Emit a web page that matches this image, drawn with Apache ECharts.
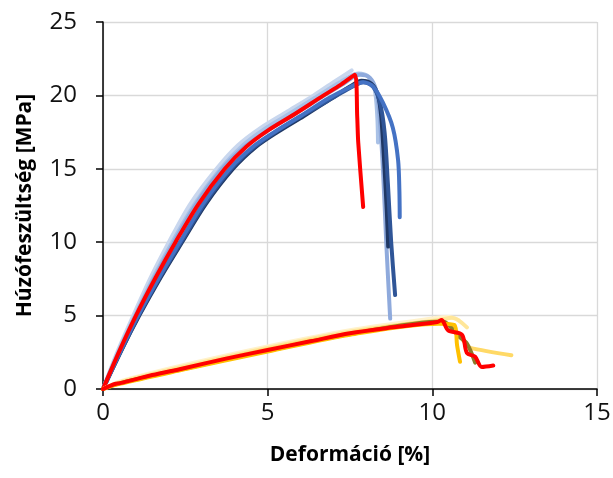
<!DOCTYPE html>
<html>
<head>
<meta charset="utf-8">
<script src="https://cdn.jsdelivr.net/npm/echarts@6/dist/echarts.min.js"></script>
<style>
  html, body { margin: 0; padding: 0; background: #fff; }
  #chart { width: 613px; height: 478px; }
</style>
</head>
<body>
<div id="chart"></div>
<script>
// upper group (blue specimens + red)
const blueVeryLight = [[0,0],[0.45,2.6],[0.92,5],[1.45,7.6],[2.0,10],[2.65,12.6],[3.45,15],[4.1,16.6],[4.8,17.8],[5.6,18.9],[6.4,20.0],[7.0,20.9],[7.55,21.7]]
const blueLight1 = [[0,0],[0.48,2.6],[0.97,5],[1.53,7.6],[2.1,10],[2.78,12.6],[3.57,15],[4.25,16.6],[4.9,17.7],[5.7,18.8],[6.55,20.0],[7.2,20.9],[7.75,21.5],[8.05,21.3],[8.25,20.4],[8.33,18.5],[8.35,16.8]]
const blueLight2 = [[0,0],[0.5,2.6],[1.0,5],[1.57,7.6],[2.15,10],[2.83,12.6],[3.62,15],[4.3,16.5],[5.0,17.6],[5.8,18.7],[6.65,19.9],[7.3,20.8],[7.8,21.4],[8.1,21.2],[8.3,20.3],[8.4,18.5],[8.5,15],[8.6,10],[8.72,4.8]]
const blueNavy = [[0,0],[0.55,2.6],[1.1,5],[1.75,7.6],[2.4,10],[3.12,12.6],[3.95,15],[4.65,16.5],[5.3,17.5],[6.1,18.6],[6.95,19.8],[7.5,20.6],[7.85,21.0],[8.15,20.8],[8.35,20.0],[8.45,18.5],[8.55,15],[8.62,12],[8.66,9.7]]
const blueDark = [[0,0],[0.55,2.6],[1.08,5],[1.72,7.6],[2.37,10],[3.08,12.6],[3.9,15],[4.6,16.5],[5.3,17.6],[6.1,18.7],[6.95,19.8],[7.5,20.5],[7.9,20.9],[8.2,20.6],[8.4,19.6],[8.55,17.5],[8.65,14],[8.75,10],[8.87,6.4]]
const blueMid = [[0,0],[0.53,2.6],[1.06,5],[1.7,7.6],[2.33,10],[3.03,12.6],[3.85,15],[4.55,16.5],[5.2,17.5],[6.0,18.6],[6.85,19.8],[7.45,20.5],[7.9,20.9],[8.2,20.6],[8.5,19.5],[8.8,17.8],[8.96,15.6],[9.0,13.5],[9.01,11.7]]
const redUpper = [[0,0],[0.5,2.6],[1.0,5],[1.6,7.6],[2.2,10],[2.9,12.6],[3.7,15],[4.35,16.5],[5,17.6],[5.8,18.7],[6.7,20.0],[7.2,20.7],[7.65,21.4],[7.72,18.5],[7.75,16.8],[7.9,12.4]]

// lower group (yellow specimens + red)
const yellowPale = [[0,0],[0.5,0.5],[2.4,1.6],[5,2.9],[7.5,4.0],[10,4.8],[10.5,4.9],[10.8,4.7]]
const yellowLight = [[0,0],[0.5,0.45],[2.4,1.5],[5,2.8],[7.5,3.9],[10.2,4.7],[10.6,4.85],[11.05,4.2]]
const yellowLong = [[0,0],[0.5,0.4],[2.4,1.4],[5,2.7],[7.5,3.8],[10.2,4.6],[10.6,4.2],[11.05,3.0],[11.15,2.8],[12.4,2.3]]
const yellowOlive = [[0,0],[0.5,0.38],[2.4,1.35],[5,2.6],[7.5,3.75],[10.3,4.6],[10.8,3.6],[11.05,3.1],[11.3,1.8]]
const yellowOrange = [[0,0],[0.5,0.35],[2.4,1.3],[5,2.55],[7.5,3.7],[10.2,4.45],[10.67,4.36],[10.75,3.0],[10.84,1.86]]
const redLower = [[0,0],[0.36,0.34],[0.52,0.4],[1.5,0.95],[2.43,1.4],[3.7,2.05],[5,2.66],[6.3,3.25],[7.5,3.8],[8.8,4.2],[10.15,4.56],[10.28,4.7],[10.48,4.0],[10.9,3.7],[11.05,2.45],[11.3,2.2],[11.5,1.5],[11.85,1.6]]

const xTicks = [0, 5, 10, 15]
const yTicks = [0, 5, 10, 15, 20, 25]

const seriesList = [
  {data: blueVeryLight, color: '#C9D7EE'},
  {data: blueLight1, color: '#A9C1E6'},
  {data: blueLight2, color: '#8FAADC'},
  {data: blueNavy, color: '#203864'},
  {data: blueDark, color: '#2F5597'},
  {data: blueMid, color: '#4472C4'},
  {data: redUpper, color: '#FF0000'},
  {data: yellowPale, color: '#FFF2CC'},
  {data: yellowLight, color: '#FFE699'},
  {data: yellowLong, color: '#FFD966'},
  {data: yellowOlive, color: '#8C7A2A'},
  {data: yellowOrange, color: '#FFC000'},
  {data: redLower, color: '#FF0000'}
]

const chart = echarts.init(document.getElementById('chart'))
const font = '"Open Sans", "DejaVu Sans", sans-serif'
const option = {
  animation: false,
  backgroundColor: '#fff',
  grid: {left: 103, right: 16, top: 22, bottom: 89, outerBoundsMode: 'none'},
  xAxis: {
    type: 'value',
    min: xTicks[0],
    max: xTicks[xTicks.length - 1],
    interval: 5,
    name: 'Deformáció [%]',
    nameLocation: 'middle',
    nameGap: 56,
    nameTextStyle: {fontFamily: font, fontSize: 21, fontWeight: 'bold', color: '#000'},
    axisLine: {lineStyle: {color: '#000', width: 1.5}},
    axisTick: {show: true, inside: false, length: 7, lineStyle: {color: '#000', width: 1.5}},
    axisLabel: {fontFamily: font, fontSize: 24, color: '#111', margin: 12},
    splitLine: {show: true, lineStyle: {color: '#D9D9D9', width: 1.3}}
  },
  yAxis: {
    type: 'value',
    min: yTicks[0],
    max: yTicks[yTicks.length - 1],
    interval: 5,
    name: 'Húzófeszültség [MPa]',
    nameLocation: 'middle',
    nameGap: 67,
    nameTextStyle: {fontFamily: font, fontSize: 21, fontWeight: 'bold', color: '#000'},
    axisLine: {show: true, lineStyle: {color: '#000', width: 1.5}},
    axisTick: {show: true, inside: false, length: 7, lineStyle: {color: '#000', width: 1.5}},
    axisLabel: {fontFamily: font, fontSize: 24, color: '#111', margin: 26},
    splitLine: {show: true, lineStyle: {color: '#D9D9D9', width: 1.3}}
  },
  series: seriesList.map(s => ({
    type: 'line',
    data: s.data,
    showSymbol: false,
    smooth: 0.3,
    lineStyle: {color: s.color, width: 4, cap: 'round', join: 'round'},
    itemStyle: {color: s.color}
  }))
}
chart.setOption(option)
</script>
</body>
</html>
